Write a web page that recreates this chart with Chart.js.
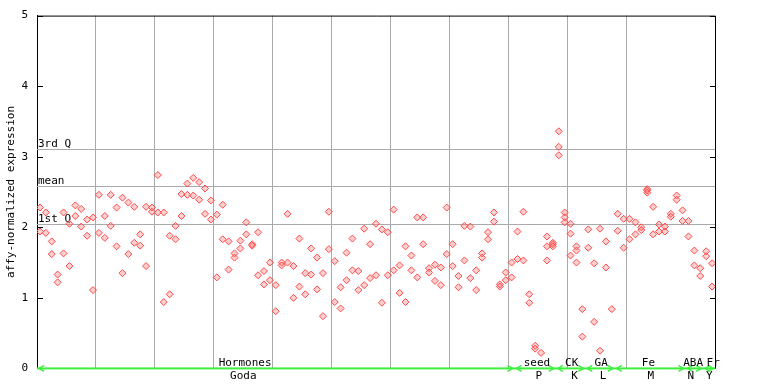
<!DOCTYPE html>
<html>
<head>
<meta charset="utf-8">
<script src="https://cdn.jsdelivr.net/npm/chart.js@4/dist/chart.umd.min.js"></script>
<style>
  html, body { margin: 0; padding: 0; background: #fff; }
  #wrap { width: 768px; height: 384px; }
</style>
</head>
<body>
<div id="wrap"><canvas id="c" width="768" height="384"></canvas></div>
<script>
// ---- data ----
// one entry per sample (115 samples); replicate values, null where absent
const repA = [2.28,2.21,1.80,1.33,2.21,2.05,2.31,2.26,2.11,2.14,
              2.46,2.16,2.46,2.28,2.42,2.35,2.29,1.90,2.29,2.28,
              2.74,2.21,1.88,2.02,2.47,2.62,2.70,2.64,2.55,2.38,
              2.18,2.32,1.80,1.63,1.81,2.07,1.76,1.93,1.38,1.50,
              1.18,1.50,2.19,1.45,1.84,1.35,1.70,1.57,1.35,2.22,
              1.52,1.15,1.64,1.84,1.38,1.98,1.76,2.05,1.97,1.93,
              2.25,1.46,1.73,1.60,2.14,2.14,1.42,1.47,1.43,2.28,
              1.76,1.31,2.02,2.01,1.39,1.63,1.93,2.21,1.19,1.36,
              1.50,1.94,2.22,1.05,0.32,0.22,1.87,1.78,3.36,2.21,
              2.05,1.73,0.84,1.97,1.49,1.98,1.80,0.84,2.19,2.12,
              2.12,2.07,2.00,2.54,2.29,2.04,2.01,2.19,2.45,2.24,
              2.09,1.67,1.42,1.66,1.49];
const repB = [1.94,1.92,1.62,1.22,1.63,1.45,2.16,2.01,1.88,1.11,
              1.92,1.85,2.02,1.73,1.35,1.62,1.78,1.74,1.45,2.22,
              2.21,0.94,1.05,1.83,2.16,2.46,2.45,2.39,2.19,2.11,
              1.29,1.83,1.40,1.57,1.70,1.90,1.74,1.32,1.19,1.25,
              0.81,1.46,1.50,1.00,1.16,1.05,1.33,1.12,0.74,1.69,
              0.94,0.85,1.25,1.39,1.11,1.18,1.28,1.32,0.93,1.32,
              1.39,1.07,0.94,1.39,1.29,1.76,1.36,1.24,1.18,1.62,
              1.45,1.15,1.53,1.28,1.11,1.57,1.83,2.08,1.16,1.25,
              1.29,1.55,1.53,0.93,0.28,null,1.73,1.76,3.14,2.14,
              1.91,1.67,0.45,1.71,0.66,0.25,1.43,null,1.95,1.71,
              1.83,1.90,1.96,2.52,1.90,1.94,1.94,2.15,2.39,2.09,
              1.87,1.46,1.31,1.59,1.16];
// third replicate (sample index -> value)
const repCIndex = [86, 87, 88, 89, 90, 91, 103];
const repCValue = [1.53, 1.73, 3.02, 2.07, 1.60, 1.50, 2.49];

// reference lines
const statNames  = ['3rd Q', 'mean', '1st Q'];
const statValues = [3.11, 2.59, 2.04];

// experiment groups along the x axis (sample index ranges)
const groupTop    = ['Hormones', 'seed', 'CK', 'GA', 'Fe', 'ABA', 'Fr'];
const groupBottom = ['Goda', 'P', 'K', 'L', 'M', 'N', 'Y'];
const groupStart  = [0, 81, 88, 93, 98, 110, 113];
const groupEnd    = [81, 88, 93, 98, 110, 113, 115];
const sampleCount = 115;

// label anchors (sample-index units)
const topLabelAt    = [35.3, 84.8, 90.7, 95.7, 103.7, 111.3, 114.7];
const bottomLabelAt = [35.0, 85.1, 91.2, 96.0, 104.1, 110.9, 114.05];

// ---- build points ----
const points = [];
for (let i = 0; i < repA.length; i++) {
  if (repA[i] != null) points.push({ x: i + 0.5, y: repA[i] });
  if (repB[i] != null) points.push({ x: i + 0.5, y: repB[i] });
}
repCIndex.forEach((idx, k) => points.push({ x: idx + 0.5, y: repCValue[k] }));

const MONO = '"DejaVu Sans Mono", "Liberation Mono", monospace';
const GREEN = '#3cf03c';

const overlay = {
  id: 'overlay',
  beforeDatasetsDraw(chart) {
    const { ctx, chartArea: a, scales: { x, y } } = chart;
    ctx.save();
    // stat lines
    ctx.strokeStyle = '#aaaaaa';
    ctx.lineWidth = 1;
    ctx.font = '11px ' + MONO;
    ctx.fillStyle = '#000';
    ctx.textAlign = 'left';
    ctx.textBaseline = 'alphabetic';
    statValues.forEach((v, k) => {
      const py = Math.round(y.getPixelForValue(v)) + 0.5;
      ctx.beginPath();
      ctx.moveTo(a.left, py);
      ctx.lineTo(a.right, py);
      ctx.stroke();
      ctx.fillText(statNames[k], a.left + 1, py - 3);
    });
    // frame top & right
    ctx.strokeStyle = '#000';
    ctx.beginPath();
    ctx.moveTo(a.left, a.top + 0.5);
    ctx.lineTo(a.right + 0.5, a.top + 0.5);
    ctx.lineTo(a.right + 0.5, a.bottom);
    ctx.stroke();
    // inner ticks at integer values on both sides
    for (let v = 0; v <= 5; v++) {
      const py = Math.round(y.getPixelForValue(v)) + 0.5;
      ctx.beginPath();
      ctx.moveTo(a.left, py); ctx.lineTo(a.left + 6, py);
      ctx.moveTo(a.right - 5, py); ctx.lineTo(a.right + 0.5, py);
      ctx.stroke();
    }
    ctx.restore();
  },
  afterDraw(chart) {
    const { ctx, chartArea: a, scales: { x } } = chart;
    ctx.save();
    // green group axis
    ctx.fillStyle = GREEN;
    ctx.fillRect(a.left, a.bottom - 1, a.right - a.left, 2);
    ctx.strokeStyle = GREEN;
    ctx.lineWidth = 1.5;
    groupStart.forEach((s, k) => {
      const x0 = x.getPixelForValue(s) + 2;
      const x1 = x.getPixelForValue(groupEnd[k]) - 2;
      const yy = a.bottom;
      ctx.beginPath();
      ctx.moveTo(x0 + 5, yy - 3); ctx.lineTo(x0, yy); ctx.lineTo(x0 + 5, yy + 3);
      ctx.moveTo(x1 - 5, yy - 3); ctx.lineTo(x1, yy); ctx.lineTo(x1 - 5, yy + 3);
      ctx.stroke();
    });
    // labels
    ctx.fillStyle = '#000';
    ctx.font = '11px ' + MONO;
    ctx.textAlign = 'center';
    ctx.textBaseline = 'alphabetic';
    groupTop.forEach((t, k) => ctx.fillText(t, x.getPixelForValue(topLabelAt[k]), a.bottom - 2));
    groupBottom.forEach((t, k) => ctx.fillText(t, x.getPixelForValue(bottomLabelAt[k]), a.bottom + 11));
    ctx.restore();
  }
};

new Chart(document.getElementById('c'), {
  type: 'scatter',
  data: {
    datasets: [{
      data: points,
      pointStyle: 'rectRot',
      radius: 3.5,
      borderWidth: 1,
      borderColor: '#ff4a4a',
      backgroundColor: 'rgba(255,120,120,0.35)'
    }]
  },
  options: {
    responsive: false,
    animation: false,
    devicePixelRatio: 1,
    layout: { padding: { left: 0, right: 53, top: 14, bottom: 0 } },
    plugins: { legend: { display: false }, tooltip: { enabled: false } },
    scales: {
      x: {
        type: 'linear', min: 0, max: sampleCount,
        ticks: { display: false, stepSize: 10 },
        grid: {
          drawTicks: false,
          color: c => (c.tick && (c.tick.value === 0 || c.tick.value >= sampleCount)) ? 'rgba(0,0,0,0)' : '#aaaaaa',
          lineWidth: 1
        },
        border: { display: false },
        afterFit: s => { s.height = 15; }
      },
      y: {
        min: 0, max: 5,
        ticks: { stepSize: 1, color: '#000', font: { family: MONO, size: 11 }, padding: 9 },
        grid: { display: false, drawTicks: false },
        border: { display: true, color: '#000', width: 1 },
        title: { display: true, text: 'affy-normalized expression', color: '#000',
                 font: { family: MONO, size: 11 }, padding: { top: 5, bottom: 0 } },
        afterFit: s => { s.width = 37; }
      }
    }
  },
  plugins: [overlay]
});
</script>
</body>
</html>
